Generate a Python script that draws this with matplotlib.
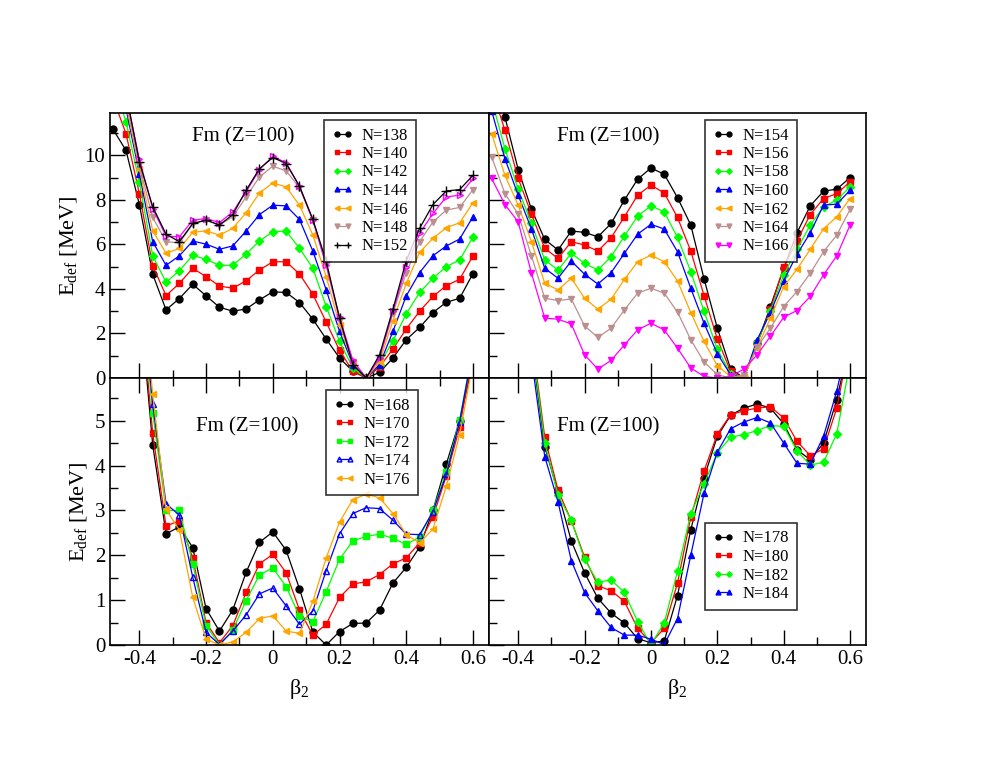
import matplotlib
matplotlib.use('Agg')
import matplotlib.pyplot as plt
from matplotlib.ticker import MultipleLocator

plt.rcParams['font.family'] = ['Liberation Serif', 'DejaVu Serif']
plt.rcParams['mathtext.fontset'] = 'custom'
plt.rcParams['mathtext.rm'] = 'Liberation Serif'
plt.rcParams['mathtext.it'] = 'Liberation Serif:italic'

# сетка деформаций beta_2
BETA = [-0.48, -0.44, -0.40, -0.36, -0.32, -0.28, -0.24, -0.20, -0.16, -0.12,
        -0.08, -0.04, 0.00, 0.04, 0.08, 0.12, 0.16, 0.20, 0.24, 0.28,
        0.32, 0.36, 0.40, 0.44, 0.48, 0.52, 0.56, 0.60]

# верхняя левая панель
N138 = [11.19, 10.22, 7.79, 4.66, 3.06, 3.57, 4.21, 3.69, 3.18, 3.00, 3.10, 3.51, 3.87, 3.84,
        3.39, 2.64, 1.75, 0.90, 0.30, 0.00, 0.25, 0.90, 1.72, 2.27, 2.94, 3.40, 3.58, 4.69]
N140 = [12.6, 10.97, 8.28, 5.04, 3.70, 4.25, 4.93, 4.55, 4.13, 4.03, 4.37, 4.85, 5.22, 5.22,
        4.67, 3.76, 2.51, 1.24, 0.30, 0.00, 0.50, 1.30, 2.20, 3.00, 3.66, 4.15, 4.43, 5.49]
N142 = [13.4, 11.5, 8.8, 5.49, 4.30, 4.82, 5.51, 5.33, 5.06, 5.06, 5.57, 6.15, 6.57, 6.60,
        5.82, 4.93, 3.21, 1.64, 0.45, 0.00, 0.60, 1.67, 2.88, 3.84, 4.48, 5.00, 5.30, 6.33]
N144 = [14.0, 12.1, 9.18, 6.12, 5.06, 5.49, 6.15, 6.01, 5.78, 5.93, 6.60, 7.34, 7.76, 7.73,
        7.12, 5.70, 3.96, 2.09, 0.60, 0.00, 0.60, 2.09, 3.69, 4.73, 5.49, 5.93, 6.24, 7.24]
N146 = [14.3, 12.3, 9.40, 6.61, 5.60, 5.82, 6.54, 6.61, 6.42, 6.72, 7.42, 8.31, 8.76, 8.58,
        7.76, 6.42, 4.55, 2.39, 0.67, 0.00, 0.72, 2.57, 4.25, 5.64, 6.27, 6.75, 6.97, 7.87]
N148 = [14.6, 12.5, 9.55, 7.21, 6.12, 6.07, 6.91, 7.09, 6.87, 7.24, 8.13, 9.03, 9.51, 9.30,
        8.55, 7.09, 5.07, 2.61, 0.72, 0.00, 0.90, 2.91, 4.73, 6.12, 7.01, 7.54, 7.66, 8.46]
N150 = [14.8, 12.7, 9.82, 7.61, 6.37, 6.34, 7.09, 7.16, 6.98, 7.46, 8.36, 9.36, 9.96, 9.66,
        8.61, 7.09, 5.07, 2.73, 0.79, 0.00, 0.90, 2.99, 5.00, 6.49, 7.39, 8.13, 8.21, 8.96]
N152 = [15.0, 12.8, 9.70, 7.69, 6.46, 6.12, 6.94, 7.09, 6.87, 7.34, 8.43, 9.40, 9.90, 9.63,
        8.61, 7.12, 5.25, 2.69, 0.60, 0.00, 1.04, 3.09, 5.27, 6.72, 7.79, 8.40, 8.46, 9.10]

# верхняя правая панель
N154 = [14.0, 11.72, 9.36, 7.58, 6.22, 5.75, 6.60, 6.54, 6.34, 6.94, 7.99, 8.93, 9.43, 9.15,
        8.10, 6.87, 4.45, 2.24, 0.42, 0.00, 1.55, 3.21, 4.93, 6.52, 7.73, 8.39, 8.48, 9.00]
N156 = [13.0, 11.12, 8.96, 7.36, 5.82, 5.37, 6.12, 5.97, 5.70, 6.30, 7.24, 8.21, 8.66, 8.31,
        7.21, 5.70, 3.70, 1.75, 0.30, 0.00, 1.55, 3.09, 4.97, 6.15, 7.34, 8.06, 8.28, 8.81]
N158 = [12.5, 10.30, 8.48, 6.94, 5.30, 4.85, 5.60, 5.15, 4.85, 5.45, 6.37, 7.27, 7.73, 7.46,
        6.31, 4.78, 2.99, 1.30, 0.20, 0.00, 1.60, 2.99, 4.63, 5.78, 6.87, 7.69, 7.99, 8.58]
N160 = [12.0, 9.85, 8.21, 6.69, 4.93, 4.48, 5.25, 4.66, 4.22, 4.73, 5.60, 6.46, 6.90, 6.69,
        5.67, 4.03, 2.46, 1.09, 0.15, 0.00, 1.72, 2.94, 4.37, 5.55, 6.52, 7.76, 7.81, 8.43]
N162 = [10.97, 9.10, 7.76, 6.12, 4.25, 3.96, 4.48, 3.58, 3.09, 3.54, 4.43, 5.22, 5.52, 5.22,
        4.36, 2.94, 1.64, 0.55, 0.07, 0.05, 1.36, 2.69, 4.10, 4.88, 5.78, 6.70, 7.24, 8.06]
N164 = [9.93, 8.28, 7.36, 5.48, 3.58, 3.48, 3.55, 2.34, 1.82, 2.24, 3.06, 3.81, 4.03, 3.81,
        2.96, 1.72, 0.72, 0.15, 0.00, 0.15, 1.39, 2.24, 3.21, 3.88, 4.70, 5.67, 6.42, 7.57]
N166 = [8.96, 7.79, 7.01, 4.70, 2.69, 2.64, 2.43, 1.04, 0.40, 0.79, 1.49, 2.16, 2.46, 2.16,
        1.34, 0.45, 0.07, 0.00, 0.07, 0.40, 1.04, 1.87, 2.73, 3.03, 3.66, 4.63, 5.49, 6.87]

# нижняя левая панель
N168 = [13.0, 10.5, 7.8, 4.46, 2.48, 2.63, 2.17, 0.81, 0.31, 0.78, 1.62, 2.29, 2.52, 2.11,
        1.25, 0.29, 0.00, 0.30, 0.48, 0.49, 0.78, 1.38, 1.73, 2.18, 3.00, 4.03, 5.00, 6.3]
N170 = [13.0, 10.6, 8.0, 4.72, 2.65, 2.77, 1.94, 0.50, 0.05, 0.43, 1.17, 1.81, 2.02, 1.61,
        0.78, 0.22, 0.46, 1.06, 1.36, 1.41, 1.57, 1.81, 1.94, 2.28, 2.85, 3.77, 4.85, 6.5]
N172 = [13.0, 10.8, 8.3, 5.17, 3.00, 3.00, 1.81, 0.43, 0.01, 0.33, 0.99, 1.56, 1.72, 1.30,
        0.64, 0.52, 1.19, 1.91, 2.32, 2.42, 2.47, 2.38, 2.24, 2.41, 3.00, 3.86, 5.02, 6.6]
N174 = [13.0, 11.0, 8.5, 5.36, 3.15, 2.89, 1.51, 0.28, 0.01, 0.31, 0.67, 1.14, 1.27, 0.87,
        0.46, 0.76, 1.66, 2.48, 2.93, 3.06, 3.04, 2.78, 2.47, 2.46, 2.97, 3.80, 4.98, 6.6]
N176 = [13.0, 11.2, 8.6, 5.6, 3.02, 2.56, 1.06, 0.13, 0.00, 0.07, 0.28, 0.59, 0.65, 0.31,
        0.26, 0.97, 1.94, 2.74, 3.24, 3.36, 3.28, 2.93, 2.46, 2.27, 2.59, 3.54, 4.69, 6.3]

# нижняя правая панель
N178 = [14.0, 11.0, 8.7, 6.7, 4.42, 3.40, 2.32, 1.61, 1.04, 0.71, 0.49, 0.14, 0.05, 0.09,
        1.10, 2.57, 3.73, 4.65, 5.12, 5.28, 5.37, 5.28, 4.93, 4.35, 4.13, 4.50, 5.47, 6.8]
N180 = [14.0, 11.0, 8.9, 6.9, 4.63, 3.45, 2.77, 1.96, 1.32, 1.21, 0.97, 0.37, 0.05, 0.37,
        1.38, 2.85, 3.88, 4.70, 5.13, 5.22, 5.28, 5.31, 5.06, 4.54, 4.22, 4.37, 5.28, 6.8]
N182 = [14.0, 11.0, 8.8, 6.8, 4.50, 3.34, 2.78, 1.91, 1.40, 1.45, 1.17, 0.52, 0.01, 0.49,
        1.64, 2.93, 3.59, 4.28, 4.63, 4.69, 4.78, 4.89, 4.87, 4.33, 4.01, 4.07, 4.71, 6.3]
N184 = [14.0, 11.0, 8.5, 6.4, 4.20, 3.19, 1.88, 1.17, 0.76, 0.39, 0.22, 0.22, 0.13, 0.01,
        0.59, 2.00, 3.38, 4.30, 4.82, 4.97, 5.07, 4.95, 4.50, 4.05, 4.03, 4.65, 5.66, 7.0]

BLACK, RED, GREEN, BLUE = '#000000', '#ff0000', '#00ff00', '#0000ff'
ORANGE, BROWN, MAGENTA = '#ffa500', '#bc8f8f', '#ff00ff'

# (данные, подпись, цвет, маркер, заливка)
panels = [
    [(N138, 'N=138', BLACK, 'o', True), (N140, 'N=140', RED, 's', True),
     (N142, 'N=142', GREEN, 'D', True), (N144, 'N=144', BLUE, '^', True),
     (N146, 'N=146', ORANGE, '<', True), (N148, 'N=148', BROWN, 'v', True),
     (N150, None, MAGENTA, '>', False), (N152, 'N=152', BLACK, '+', True)],
    [(N154, 'N=154', BLACK, 'o', True), (N156, 'N=156', RED, 's', True),
     (N158, 'N=158', GREEN, 'D', True), (N160, 'N=160', BLUE, '^', True),
     (N162, 'N=162', ORANGE, '<', True), (N164, 'N=164', BROWN, 'v', True),
     (N166, 'N=166', MAGENTA, 'v', True)],
    [(N168, 'N=168', BLACK, 'o', True), (N170, 'N=170', RED, 's', True),
     (N172, 'N=172', GREEN, 's', True), (N174, 'N=174', BLUE, '^', False),
     (N176, 'N=176', ORANGE, '<', True)],
    [(N178, 'N=178', BLACK, 'o', True), (N180, 'N=180', RED, 's', True),
     (N182, 'N=182', GREEN, 'D', True), (N184, 'N=184', BLUE, '^', True)],
]

fig = plt.figure(figsize=(9.81, 7.58), dpi=100)
W, H = 981, 758
rects = [(110, 113, 489, 378), (489, 113, 866, 378),
         (110, 378, 489, 645), (489, 378, 866, 645)]
axes = [fig.add_axes([x0 / W, 1 - y1 / H, (x1 - x0) / W, (y1 - y0) / H])
        for x0, y0, x1, y1 in rects]

legend_pos = [(324, 120), (705, 120), (326, 390), (705, 523)]
title_pos = [(243, 137), (608, 137), (247, 427), (608, 427)]

for i, ax in enumerate(axes):
    for data, label, color, marker, filled in panels[i]:
        ms = 7 if marker == '+' else 5
        if marker == 'D':
            ms = 4
        ax.plot(BETA, data, color=color, marker=marker, markersize=ms, lw=0.9,
                markerfacecolor=color if filled else 'none', markeredgewidth=1.0,
                label=label)
    top = i < 2
    ax.set_xlim(-0.488, 0.648)
    ax.set_ylim(0, 11.9 if top else 5.95)
    ax.xaxis.set_major_locator(MultipleLocator(0.2))
    ax.xaxis.set_minor_locator(MultipleLocator(0.1))
    ax.yaxis.set_major_locator(MultipleLocator(2 if top else 1))
    ax.yaxis.set_minor_locator(MultipleLocator(1 if top else 0.5))
    ax.tick_params(which='major', direction='in', length=11, width=1.0,
                   labelsize=15, right=False, top=False)
    ax.tick_params(which='minor', direction='in', length=5.5, width=1.0,
                   right=False, top=False)
    if not top:
        ax.tick_params(which='both', top=True)
    for sp in ax.spines.values():
        sp.set_linewidth(1.2)
    if top:
        ax.set_xticklabels([])
    else:
        ax.set_xticks([-0.4, -0.2, 0, 0.2, 0.4, 0.6])
        ax.set_xticklabels(['-0.4', '-0.2', '0', '0.2', '0.4', '0.6'])
        ax.set_xlabel(r'$\mathrm{\beta}_2$', fontsize=16, labelpad=6)
    if i % 2 == 1:
        ax.set_yticklabels([])
    else:
        ax.set_ylabel(r'$\mathrm{E}_{\mathrm{def}}$ [MeV]', fontsize=16, labelpad=4)
    tx, ty = title_pos[i]
    fig.text(tx / W, 1 - ty / H, 'Fm (Z=100)', fontsize=15, ha='center', va='center')
    lx, ly = legend_pos[i]
    leg = ax.legend(loc='upper left', bbox_to_anchor=(lx / W, 1 - ly / H),
                    bbox_transform=fig.transFigure, numpoints=2, fontsize=12,
                    frameon=True, fancybox=False, edgecolor='black',
                    handlelength=1.3, handletextpad=0.5, labelspacing=0.15,
                    borderpad=0.45, borderaxespad=0, markerscale=0.7)
    leg.get_frame().set_linewidth(1.2)

fig.savefig('out.png', dpi=100)
